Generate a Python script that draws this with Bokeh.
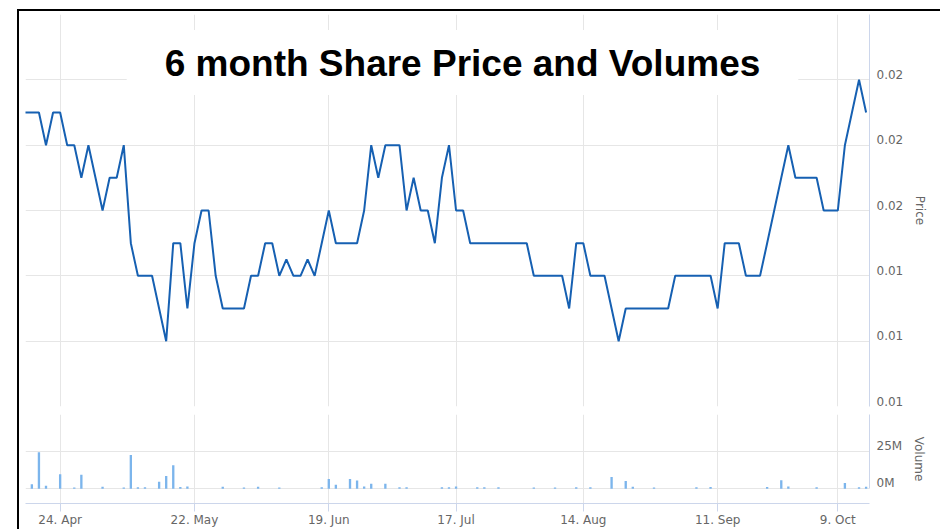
from bokeh.plotting import figure
from bokeh.layouts import column
from bokeh.models import Range1d, FixedTicker, PrintfTickFormatter, LinearAxis, Label
from bokeh.embed import file_html
from bokeh.resources import INLINE

# ---------------- data ----------------
title_text = "6 month Share Price and Volumes"

# closing price for each trading day shown (ordinal x axis, index 0..119)
price = [
    0.019, 0.019, 0.019, 0.018, 0.019, 0.019, 0.018, 0.018, 0.017, 0.018,
    0.017, 0.016, 0.017, 0.017, 0.018, 0.015, 0.014, 0.014, 0.014, 0.013,
    0.012, 0.015, 0.015, 0.013, 0.015, 0.016, 0.016, 0.014, 0.013, 0.013,
    0.013, 0.013, 0.014, 0.014, 0.015, 0.015, 0.014, 0.0145, 0.014, 0.014,
    0.0145, 0.014, 0.015, 0.016, 0.015, 0.015, 0.015, 0.015, 0.016, 0.018,
    0.017, 0.018, 0.018, 0.018, 0.016, 0.017, 0.016, 0.016, 0.015, 0.017,
    0.018, 0.016, 0.016, 0.015, 0.015, 0.015, 0.015, 0.015, 0.015, 0.015,
    0.015, 0.015, 0.014, 0.014, 0.014, 0.014, 0.014, 0.013, 0.015, 0.015,
    0.014, 0.014, 0.014, 0.013, 0.012, 0.013, 0.013, 0.013, 0.013, 0.013,
    0.013, 0.013, 0.014, 0.014, 0.014, 0.014, 0.014, 0.014, 0.013, 0.015,
    0.015, 0.015, 0.014, 0.014, 0.014, 0.015, 0.016, 0.017, 0.018, 0.017,
    0.017, 0.017, 0.017, 0.016, 0.016, 0.016, 0.018, 0.019, 0.020, 0.019,
]
day_index = list(range(len(price)))

# traded volume (millions of shares) on the days that had trades
volume_days = [1, 2, 3, 5, 7, 8, 11, 14, 15, 16, 17, 19, 20, 21, 22, 23, 28, 31, 33, 36,
               42, 43, 44, 46, 47, 48, 49, 51, 53, 54, 59, 60, 61, 64, 65, 67, 72, 75, 78, 80,
               83, 85, 86, 89, 95, 97, 105, 107, 108, 112, 116, 118, 119]
volume_millions = [3.0, 24.6, 2.0, 9.8, 0.9, 9.4, 1.4, 0.9, 22.7, 1.0, 1.0, 4.8, 8.6, 15.9, 1.2, 1.5, 1.3, 0.9, 1.4, 0.9,
                   1.0, 6.6, 2.7, 6.6, 5.5, 1.5, 3.4, 3.4, 1.0, 1.0, 1.0, 1.0, 1.6, 1.0, 1.0, 1.0, 0.9, 0.9, 1.0, 1.0,
                   8.0, 5.2, 1.4, 0.9, 1.0, 1.2, 1.2, 5.7, 1.5, 1.0, 3.9, 1.0, 1.3]
volume_shares = [v * 1e6 for v in volume_millions]

date_tick_index = [5, 24, 43, 61, 79, 98, 115]
date_tick_labels = ["24. Apr", "22. May", "19. Jun", "17. Jul", "14. Aug", "11. Sep", "9. Oct"]

price_grid_ticks = [0.010, 0.012, 0.014, 0.016, 0.018, 0.020, 0.022]
price_label_ticks = [0.010, 0.012, 0.014, 0.016, 0.018, 0.020]
volume_grid_ticks = [0, 25_000_000, 50_000_000]
volume_label_ticks = [0, 25_000_000]
volume_tick_labels = ["0M", "25M"]

# ---------------- style ----------------
GRID = "#e6e6e6"
AXIS = "#ccd6eb"
TXT = "#666666"
FONT = "DejaVu Sans"
LINE = "#1660b2"
BAR = "#7cb5ec"

PRICE_LABEL_LIFT = 0.000168      # lifts y labels ~5px above their grid line
VOLUME_LABEL_LIFT = 3_700_000

x_range = Range1d(0.1, 119.48)


def style_right_axis(ax, label):
    ax.major_tick_line_color = None
    ax.minor_tick_line_color = None
    ax.major_tick_out = 0
    ax.major_tick_in = 0
    ax.minor_tick_out = 0
    ax.minor_tick_in = 0
    ax.axis_line_color = AXIS
    ax.major_label_standoff = 7
    ax.major_label_text_color = TXT
    ax.major_label_text_font = FONT
    ax.major_label_text_font_size = "12px"
    ax.axis_label = label
    ax.axis_label_text_font = FONT
    ax.axis_label_text_font_style = "normal"
    ax.axis_label_text_font_size = "12px"
    ax.axis_label_text_color = TXT
    ax.axis_label_standoff = 7


# ---------------- price panel ----------------
pf = figure(width=921, height=399, x_range=x_range, y_range=Range1d(0.010, 0.022),
            x_axis_location=None, y_axis_location="right", toolbar_location=None,
            output_backend="svg", min_border_left=6, min_border_right=71,
            min_border_top=3, min_border_bottom=4)
pf.outline_line_color = None
pf.background_fill_color = "white"
pf.border_fill_color = "white"
pf.xgrid.ticker = FixedTicker(ticks=date_tick_index)
pf.xgrid.grid_line_color = GRID
pf.ygrid.ticker = FixedTicker(ticks=price_grid_ticks)
pf.ygrid.grid_line_color = GRID

pya = pf.yaxis[0]
pya.ticker = FixedTicker(ticks=[t + PRICE_LABEL_LIFT for t in price_label_ticks])
pya.formatter = PrintfTickFormatter(format="%.2f")
style_right_axis(pya, "Price")

pf.line(day_index, price, line_color=LINE, line_width=2)

pf.add_layout(Label(x=437, y=344, x_units="screen", y_units="screen", text=title_text,
                    text_font="Liberation Sans", text_font_style="bold",
                    text_font_size="37px", text_color="black",
                    text_align="center", text_baseline="alphabetic",
                    background_fill_color="white",
                    padding=dict(left=38, right=38, top=13, bottom=11)))

# ---------------- volume panel ----------------
vf = figure(width=921, height=119, x_range=x_range, y_range=Range1d(-9_900_000, 50_000_000),
            x_axis_location="below", y_axis_location="right", toolbar_location=None,
            output_backend="svg", min_border_left=6, min_border_right=71,
            min_border_top=4, min_border_bottom=26)
vf.outline_line_color = None
vf.background_fill_color = "white"
vf.border_fill_color = "white"
vf.xgrid.ticker = FixedTicker(ticks=date_tick_index)
vf.xgrid.grid_line_color = GRID
vf.ygrid.ticker = FixedTicker(ticks=volume_grid_ticks)
vf.ygrid.grid_line_color = GRID

vf.vbar(x=volume_days, top=volume_shares, bottom=0, width=0.33,
        fill_color=BAR, line_color=None)

vya = vf.yaxis[0]
lifted = [t + VOLUME_LABEL_LIFT for t in volume_label_ticks]
vya.ticker = FixedTicker(ticks=lifted)
vya.major_label_overrides = {float(t): lab for t, lab in zip(lifted, volume_tick_labels)}
vya.bounds = (0, 50_000_000)
style_right_axis(vya, "Volume")

vxa = vf.xaxis[0]
vxa.ticker = FixedTicker(ticks=date_tick_index)
vxa.major_label_overrides = {i: lab for i, lab in zip(date_tick_index, date_tick_labels)}
vxa.axis_line_color = AXIS
vxa.major_tick_line_color = AXIS
vxa.major_tick_out = 8
vxa.major_tick_in = 0
vxa.minor_tick_line_color = None
vxa.minor_tick_out = 0
vxa.minor_tick_in = 0
vxa.major_label_standoff = 1
vxa.major_label_text_color = TXT
vxa.major_label_text_font = FONT
vxa.major_label_text_font_size = "12px"

bottom_rule = LinearAxis(ticker=FixedTicker(ticks=[]), axis_line_color=AXIS,
                         major_tick_out=0, major_tick_in=0, minor_tick_out=0, minor_tick_in=0,
                         major_label_standoff=0, major_tick_line_color=None,
                         minor_tick_line_color=None)
vf.add_layout(bottom_rule, "below")

layout = column(pf, vf, spacing=0,
                styles={"border-top": "2px solid #000", "border-left": "2px solid #000",
                        "background-color": "white",
                        "position": "fixed", "top": "9px", "left": "17px"})

open("out.html", "w").write(file_html(layout, INLINE))
